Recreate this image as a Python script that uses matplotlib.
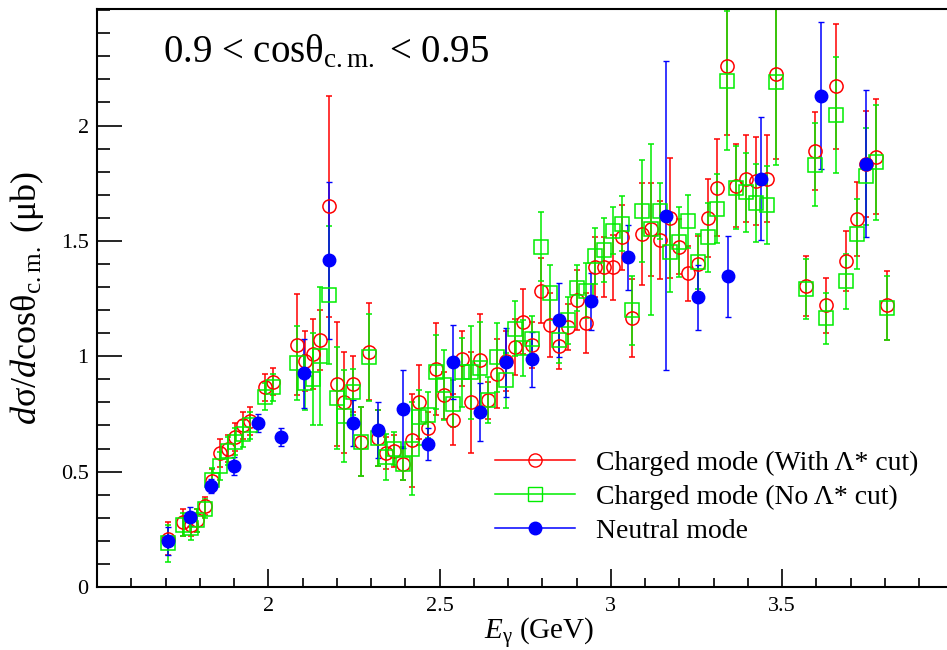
import matplotlib
matplotlib.use("Agg")
import matplotlib.pyplot as plt
from matplotlib.ticker import MultipleLocator, FuncFormatter
from matplotlib.lines import Line2D

plt.rcParams['font.family'] = ['Liberation Serif', 'DejaVu Serif']
plt.rcParams['mathtext.fontset'] = 'custom'
plt.rcParams['mathtext.rm'] = 'Liberation Serif'
plt.rcParams['mathtext.it'] = 'Liberation Serif:italic'

# Charged mode (With Lambda* cut)
ec_x = [1.708, 1.752, 1.775, 1.793, 1.816, 1.837, 1.860, 1.883, 1.904, 1.927, 1.947, 1.991, 2.015,
        2.085, 2.108, 2.131, 2.152, 2.178, 2.201, 2.222, 2.248, 2.271, 2.295, 2.320, 2.344, 2.368,
        2.394, 2.418, 2.441, 2.467, 2.490, 2.514, 2.540, 2.566, 2.592, 2.619, 2.642, 2.668, 2.695,
        2.721, 2.744, 2.770, 2.797, 2.823, 2.849, 2.875, 2.901, 2.928, 2.954, 2.980, 3.007, 3.033,
        3.062, 3.091, 3.118, 3.144, 3.173, 3.199, 3.226, 3.255, 3.284, 3.310, 3.340, 3.366, 3.395,
        3.424, 3.456, 3.482, 3.570, 3.596, 3.628, 3.657, 3.687, 3.719, 3.745, 3.774, 3.806]
cut_y = [0.21, 0.28, 0.27, 0.29, 0.35, 0.46, 0.58, 0.60, 0.65, 0.70, 0.72, 0.865, 0.89,
         1.05, 0.98, 1.01, 1.07, 1.65, 0.88, 0.80, 0.88, 0.63, 1.02, 0.645, 0.58, 0.59,
         0.535, 0.635, 0.80, 0.69, 0.945, 0.83, 0.725, 0.99, 0.80, 0.985, 0.81, 0.925, 0.98,
         1.04, 1.15, 1.05, 1.285, 1.135, 1.045, 1.125, 1.245, 1.145, 1.385, 1.385, 1.385, 1.515,
         1.165, 1.53, 1.55, 1.505, 1.60, 1.475, 1.36, 1.40, 1.60, 1.73, 2.26, 1.74, 1.77,
         1.76, 1.77, 2.225, 1.305, 1.89, 1.22, 2.17, 1.415, 1.595, 1.835, 1.865, 1.22]
cut_err = [0.07, 0.06, 0.05, 0.05, 0.04, 0.05, 0.06, 0.06, 0.06, 0.06, 0.06, 0.06, 0.06,
           0.22, 0.13, 0.15, 0.13, 0.48, 0.27, 0.22, 0.12, 0.15, 0.21, 0.12, 0.07, 0.07,
           0.07, 0.20, 0.16, 0.07, 0.20, 0.10, 0.11, 0.12, 0.22, 0.20, 0.08, 0.15, 0.13,
           0.12, 0.14, 0.10, 0.14, 0.14, 0.10, 0.10, 0.13, 0.13, 0.13, 0.13, 0.14, 0.14,
           0.17, 0.22, 0.20, 0.17, 0.26, 0.12, 0.12, 0.12, 0.17, 0.21, 0.30, 0.18, 0.19,
           0.19, 0.19, 0.37, 0.13, 0.17, 0.12, 0.27, 0.13, 0.16, 0.23, 0.25, 0.15]

# Charged mode (No Lambda* cut), same energy bins
nocut_y = [0.19, 0.27, 0.255, 0.29, 0.34, 0.465, 0.525, 0.59, 0.63, 0.665, 0.70, 0.825, 0.865,
           0.97, 0.885, 0.90, 1.00, 1.265, 0.82, 0.74, 0.845, 0.63, 0.995, 0.645, 0.565, 0.60,
           0.535, 0.60, 0.735, 0.745, 0.93, 0.875, 0.795, 0.93, 0.93, 0.95, 0.81, 0.995, 0.895,
           1.12, 1.035, 1.075, 1.475, 1.275, 1.07, 1.155, 1.295, 1.285, 1.435, 1.46, 1.545, 1.575,
           1.20, 1.63, 1.55, 1.63, 1.45, 1.495, 1.585, 1.41, 1.515, 1.64, 2.195, 1.73, 1.71,
           1.665, 1.655, 2.19, 1.29, 1.83, 1.165, 2.045, 1.325, 1.53, 1.78, 1.84, 1.21]
nocut_err = [0.08, 0.05, 0.05, 0.05, 0.04, 0.05, 0.06, 0.06, 0.06, 0.06, 0.06, 0.06, 0.06,
             0.16, 0.12, 0.20, 0.30, 0.30, 0.22, 0.20, 0.10, 0.15, 0.19, 0.12, 0.10, 0.07,
             0.07, 0.20, 0.12, 0.10, 0.16, 0.15, 0.10, 0.15, 0.20, 0.20, 0.10, 0.15, 0.12,
             0.12, 0.12, 0.10, 0.15, 0.12, 0.10, 0.10, 0.10, 0.12, 0.12, 0.14, 0.10, 0.12,
             0.15, 0.22, 0.37, 0.12, 0.17, 0.15, 0.115, 0.12, 0.15, 0.15, 0.30, 0.18, 0.17,
             0.17, 0.17, 0.36, 0.13, 0.18, 0.11, 0.25, 0.12, 0.15, 0.21, 0.25, 0.14]

# Neutral mode
neu_x = [1.708, 1.772, 1.834, 1.900, 1.971, 2.038, 2.105, 2.178, 2.248, 2.321, 2.394, 2.467, 2.540,
         2.619, 2.695, 2.770, 2.849, 2.943, 3.050, 3.161, 3.255, 3.342, 3.439, 3.614, 3.745]
neu_y = [0.20, 0.305, 0.437, 0.524, 0.71, 0.649, 0.926, 1.416, 0.71, 0.68, 0.771, 0.619, 0.974,
         0.758, 0.974, 0.987, 1.156, 1.238, 1.429, 1.61, 1.255, 1.346, 1.77, 2.13, 1.835]
neu_err = [0.06, 0.04, 0.03, 0.04, 0.04, 0.04, 0.15, 0.34, 0.10, 0.12, 0.17, 0.07, 0.16,
           0.125, 0.15, 0.12, 0.16, 0.125, 0.14, 0.67, 0.14, 0.175, 0.265, 0.32, 0.32]

x_ticks = [2, 2.5, 3, 3.5]
y_ticks = [0, 0.5, 1, 1.5, 2]
labels = ["Charged mode (With Λ* cut)", "Charged mode (No Λ* cut)", "Neutral mode"]
RED, GREEN, BLUE = "#ff0000", "#00ee00", "#0000ff"

fig = plt.figure(figsize=(9.47, 6.5), dpi=100)
ax = fig.add_axes([97/947, 63/650, 1 - 97/947, 578/650])

ax.errorbar(ec_x, cut_y, yerr=cut_err, fmt='o', color=RED, mfc='none', mec=RED,
            ms=9.5, mew=1.1, elinewidth=1.1, capsize=2.5, capthick=1.1)
ax.errorbar(ec_x, nocut_y, yerr=nocut_err, fmt='s', color=GREEN, mfc='none', mec=GREEN,
            ms=9.5, mew=1.1, elinewidth=1.1, capsize=2.5, capthick=1.1)
ax.errorbar(neu_x, neu_y, yerr=neu_err, fmt='o', color=BLUE, mfc=BLUE, mec=BLUE,
            ms=9, mew=1.0, elinewidth=1.1, capsize=2.5, capthick=1.1)

ax.set_xlim(1.5, 3.981)
ax.set_ylim(0, 2.505)
ax.xaxis.set_minor_locator(MultipleLocator(0.1))
ax.yaxis.set_minor_locator(MultipleLocator(0.1))
ax.set_xticks(x_ticks)
ax.set_yticks(y_ticks)
fmt = FuncFormatter(lambda v, p: "%g" % round(v, 3))
ax.xaxis.set_major_formatter(fmt)
ax.yaxis.set_major_formatter(fmt)
ax.tick_params(axis='both', which='both', direction='in', labelsize=16, width=1.2)
ax.tick_params(axis='y', which='major', length=18, pad=6)
ax.tick_params(axis='y', which='minor', length=9)
ax.tick_params(axis='x', which='major', length=13, pad=7)
ax.tick_params(axis='x', which='minor', length=6.5)
for s in ['left', 'bottom', 'top']:
    ax.spines[s].set_linewidth(1.5)
ax.spines['right'].set_visible(False)

ax.set_ylabel(r"$d\mathrm{σ}/d\mathrm{cosθ}_{\mathrm{c.m.}}$ (μb)", fontsize=26)
ax.yaxis.set_label_coords(-0.06, 0.5)
ax.set_xlabel(r"$E_{\mathrm{γ}}$ (GeV)", fontsize=21)
ax.xaxis.set_label_coords(0.52, -0.05)

ax.text(0.078, 0.925, r"0.9 < cosθ$_{\mathrm{c.m.}}$ < 0.95", transform=ax.transAxes,
        fontsize=28, ha='left', va='center')

handles = [Line2D([], [], color=RED, marker='o', mfc='none', mec=RED, ms=9.5, lw=1.1),
           Line2D([], [], color=GREEN, marker='s', mfc='none', mec=GREEN, ms=9.5, lw=1.1),
           Line2D([], [], color=BLUE, marker='o', mfc=BLUE, mec=BLUE, ms=9, lw=1.1)]
ax.legend(handles, labels, loc='upper left', bbox_to_anchor=(0.455, 0.255), frameon=False,
          fontsize=20, handlelength=2.9, handletextpad=0.75, labelspacing=0.3,
          borderaxespad=0)

fig.savefig("out.png", dpi=100)
